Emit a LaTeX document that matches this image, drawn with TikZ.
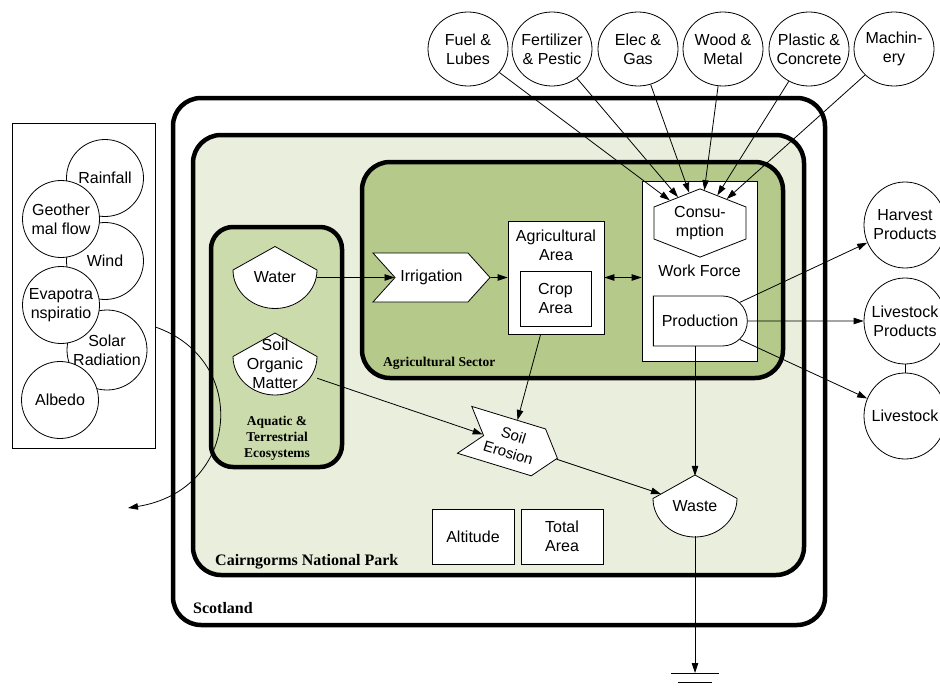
\documentclass[tikz,border=0pt]{standalone}
\usepackage{fontspec}
\setmainfont{Liberation Sans}
\newfontfamily\lblfont{Liberation Serif}
\usetikzlibrary{shapes.symbols,shapes.misc,shapes.geometric,arrows.meta,calc}
\definecolor{parkfill}{HTML}{EAEEDD}
\definecolor{agrfill}{HTML}{B4C98A}
\definecolor{aqfill}{HTML}{CCDBAC}
\begin{document}
\begin{tikzpicture}[x=1pt,y=-1pt,
  every node/.append style={font=\fontsize{16}{19}\selectfont, inner sep=0pt},
  conn/.style={line width=0.8pt, -{Triangle[length=10pt,width=6.5pt]}},
  box/.style={draw, line width=0.8pt, fill=white, align=center},
  ring/.style={ellipse, draw, line width=0.8pt, fill=white},
  txt/.style={align=center},
  container/.style={line width=4.5pt, rounded corners=28pt},
  lbl/.style={font=\lblfont\bfseries\fontsize{16}{19}\selectfont},
  lblsmall/.style={font=\lblfont\bfseries\fontsize{13.5}{16}\selectfont, align=center},
  cup/.pic={\draw[line width=0.8pt, fill=white] (42,-7.5) .. controls (42,13.7) and (23.1,31) .. (0,31) .. controls (-23.1,31) and (-42,13.7) .. (-42,-7.5) -- (0,-31) -- cycle;}
]
\useasboundingbox (0,0) rectangle (940,688);

% containers
\draw[container, fill=white] (173,98) rectangle (825,625);
\draw[container, fill=parkfill] (193,135) rectangle (804,575);
\draw[container, fill=agrfill] (362,162) rectangle (783,378);
\draw[container, fill=aqfill, rounded corners=22pt] (211,227) rectangle (342,467);

\node[lbl, anchor=base west] at (193,613) {Scotland};
\node[lbl, anchor=base west] at (215,565) {Cairngorms National Park};
\node[lblsmall, anchor=base west] at (383,366.5) {Agricultural Sector};
\node[lblsmall] at (277,438) {Aquatic \&\\Terrestrial\\Ecosystems};

% left environment panel
\node[draw, line width=0.8pt, minimum width=143pt, minimum height=325pt] (panel) at (83.5,285.5) {};
\node[ring, minimum width=77pt, minimum height=77pt] (rain) at (105,178) {};
\node[txt] at (rain) {Rainfall};
\node[ring, minimum width=77pt, minimum height=77pt] (wind) at (105,261) {};
\node[txt] at (wind) {Wind};
\node[ring, minimum width=80pt, minimum height=80pt] (solar) at (107,350) {};
\node[txt] at (solar) {Solar\\Radiation};
\node[ring, minimum width=77pt, minimum height=77pt] (geo) at (61,219) {};
\node[txt] at (geo) {Geother\\mal flow};
\node[ring, minimum width=77pt, minimum height=77pt] (evap) at (61,305) {};
\node[txt] at (evap) {Evapotra\\nspiratio};
\node[ring, minimum width=77pt, minimum height=77pt] (albedo) at (60,400) {};
\node[txt] at (albedo) {Albedo};

% top inputs
\foreach \nm/\xx/\tt in {fuel/468/{Fuel \&\\Lubes}, fert/552/{Fertilizer\\\& Pestic}, elec/638/{Elec \&\\Gas}, wood/723/{Wood \&\\Metal}, plast/809/{Plastic \&\\Concrete}, mach/894/{Machin-\\ery}}{
  \node[ring, minimum width=80pt, minimum height=74pt] (\nm) at (\xx,49) {};
  \node[txt] at (\nm) {\tt};
}

% right outputs
\node[ring, minimum width=82pt, minimum height=86pt] (harvest) at (905,225) {};
\node[txt] at (harvest) {Harvest\\Products};
\node[ring, minimum width=82pt, minimum height=86pt] (lprod) at (905,321) {};
\node[txt] at (lprod) {Livestock\\Products};
\node[ring, minimum width=82pt, minimum height=86pt] (lstock) at (905,416) {};
\node[txt] at (lstock) {Livestock};

% ecosystems
\pic at (275,277.5) {cup};
\node[minimum width=84pt, minimum height=62pt] (water) at (275,277.5) {Water};
\pic at (275,364) {cup};
\node[txt, minimum width=84pt, minimum height=62pt] (som) at (275,364) {Soil\\Organic\\Matter};

% agricultural sector
\node[signal, signal to=east, signal from=west, draw, fill=white, line width=0.8pt,
      minimum width=117pt, minimum height=49pt, signal pointer angle=96] (irr) at (431.5,277.5) {Irrigation};
\node[box, minimum width=96pt, minimum height=113pt] (agarea) at (556,277.5) {};
\node[txt] at ($(agarea.north)+(0,25)$) {Agricultural\\Area};
\node[box, minimum width=71pt, minimum height=55pt] (crop) at (555.5,298.5) {Crop\\Area};
\node[box, minimum width=115pt, minimum height=180pt] (wf) at (699.5,271) {Work Force};
\node[signal, signal to=north and south, draw, fill=white, line width=0.8pt,
      minimum width=92pt, minimum height=32pt, signal pointer angle=137] (cons) at (700,223) {};
\node[txt] at (cons) {Consu-\\mption};
\node[rounded rectangle, rounded rectangle left arc=none, draw, fill=white, line width=0.8pt,
      minimum width=94pt, minimum height=50pt] (prod) at (700,321) {Production};

% park level
\node[signal, signal to=east, signal from=west, draw, fill=white, line width=0.8pt, align=center,
      font=\fontsize{15}{18}\selectfont,
      minimum width=97pt, minimum height=49pt, signal pointer angle=102, rotate=-17] (eros) at (511,444) {Soil\\Erosion};
\pic at (695,506) {cup};
\node[minimum width=84pt, minimum height=60pt] (waste) at (695,506) {Waste};
\node[box, minimum width=82pt, minimum height=55pt] (alt) at (473,536.5) {Altitude};
\node[box, minimum width=82pt, minimum height=55pt] (total) at (562,536.5) {Total\\Area};

% connectors
\draw[conn] (water.east) -- (irr);
\draw[conn] (irr) -- (agarea);
\draw[line width=0.8pt, {Triangle[length=10pt,width=6.5pt]}-{Triangle[length=10pt,width=6.5pt]}] (agarea.east) -- (agarea.east -| wf.west);
\foreach \nm in {fuel,fert,elec,wood,plast,mach}{\draw[conn] (\nm) -- (cons);}
\draw[conn] (prod) -- (harvest);
\draw[conn] (prod) -- (lprod);
\draw[conn] (prod) -- (lstock);
\draw[line width=0.8pt] (lprod) -- (lstock);
\draw[conn] (prod.south -| waste.north) -- (waste.north);
\draw[conn] (agarea) -- (eros);
\draw[conn] (som) -- (eros);
\coordinate (wasteIn) at (661,494);
\draw[conn] (eros) -- (wasteIn);
\coordinate (gnd) at (695,673);
\draw[conn] (waste.south) -- (gnd);
\draw[line width=0.8pt] ($(gnd)+(-24,0)$) -- ($(gnd)+(24,0)$);
\draw[line width=0.8pt] ($(gnd)+(-17,9)$) -- ($(gnd)+(17,9)$);
\coordinate (envout) at (panel.east |- 0,327);
\coordinate (envsink) at (128,508);
\draw[conn] (envout) .. controls (250,360) and (240,490) .. (envsink);
\end{tikzpicture}
\end{document}
